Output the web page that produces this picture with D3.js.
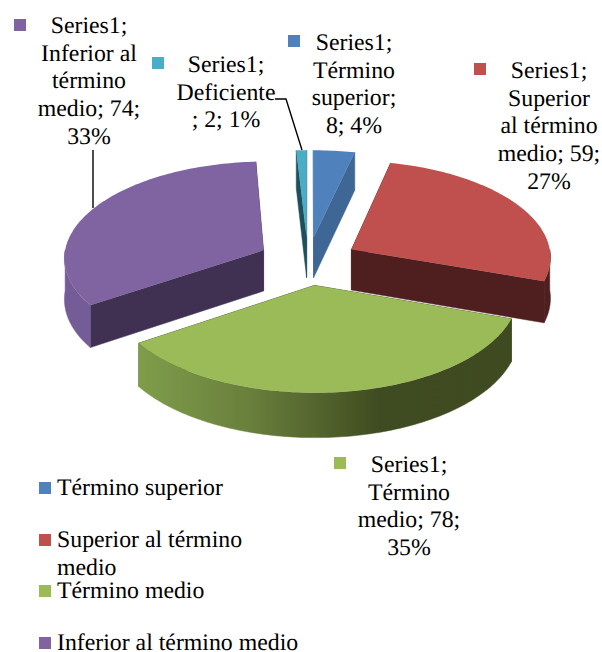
<!DOCTYPE html>
<html>
<head>
<meta charset="utf-8">
<script src="https://cdn.jsdelivr.net/npm/d3@7"></script>
<style>
  html, body { margin: 0; padding: 0; background: #fff; }
  svg { display: block; }
  text { font-family: "Liberation Serif", serif; fill: #000; text-rendering: geometricPrecision; }
</style>
</head>
<body>
<div id="chart"></div>
<script>
"use strict";

/* ── Data ── */
const categories = ["Término superior", "Superior al término medio", "Término medio", "Inferior al término medio", "Deficiente"];
const seriesValues = [8, 59, 78, 74, 2];
const percentLabels = ["4%", "27%", "35%", "33%", "1%"];
const labelLines = [
  ["Series1;", "Término", "superior;", "8; 4%"],
  ["Series1;", "Superior", "al término", "medio; 59;", "27%"],
  ["Series1;", "Término", "medio; 78;", "35%"],
  ["Series1;", "Inferior al", "término", "medio; 74;", "33%"],
  ["Series1;", "Deficiente", "; 2; 1%"]
];
const legendLines = [
  ["Término superior"],
  ["Superior al término", "medio"],
  ["Término medio"],
  ["Inferior al término medio"]
];

/* ── Styles & layout ── */
const topColours  = ["#4f81bd", "#c0504d", "#9bbb59", "#8064a2", "#4bacc6"];
const sideColours = ["#3e6796", "#4e1f1e", "#3f4a20", "#403152", "#1d4f5c"];
const rimColours  = ["#3e6796", "#4e1f1e", "url(#greenRim)", "#745c96", "#1d4f5c"];
const labelPos  = [
  { x: 354, y: 50,  mx: 288, my: 35 },
  { x: 549, y: 78,  mx: 474, my: 63 },
  { x: 409, y: 472, mx: 334, my: 457 },
  { x: 89,  y: 33,  mx: 14,  my: 19 },
  { x: 226, y: 72,  mx: 152, my: 57 }
];
const legendPos = [
  { y: 495, my: 482 },
  { y: 547, my: 534 },
  { y: 598, my: 585 },
  { y: 650, my: 637 }
];

const width = 602, height = 652;
const fontSize = 23.8, lineStep = 27.7;
const cx = 308, cy = 261;
const R = 200, explode = 50, tilt = 0.482, persp = 0.0695, depth = 41;

const svg = d3.select("#chart").append("svg")
  .attr("width", width)
  .attr("height", height);

const grad = svg.append("defs").append("linearGradient")
  .attr("id", "greenRim")
  .attr("gradientUnits", "userSpaceOnUse")
  .attr("x1", 138).attr("x2", 512).attr("y1", 0).attr("y2", 0);
[[0, "#7f9d4a"], [0.3, "#697f3c"], [0.65, "#3f4b20"], [1, "#3f4a20"]].forEach(s => {
  grad.append("stop").attr("offset", s[0]).attr("stop-color", s[1]);
});

/* ── Pie layout, clockwise from 12 o'clock ── */
const pie = d3.pie().value(d => d).sort(null);
const slices = pie(seriesValues).map(d => {
  const mid = (d.startAngle + d.endAngle) / 2;
  return { ...d, mid, ox: explode * Math.sin(mid), ov: -explode * Math.cos(mid) };
});

/* Projects a point on the pie plane: v grows towards the viewer */
function project(x, v, drop) {
  const p = 1 / (1 - persp * v / R);
  return [cx + x * p, cy + tilt * v * p + drop * p];
}
function apex(s, drop) {
  return project(s.ox, s.ov, drop);
}
function rimPoint(s, a, drop) {
  return project(s.ox + R * Math.sin(a), s.ov - R * Math.cos(a), drop);
}
function rimAngles(a0, a1) {
  const n = Math.max(2, Math.ceil((a1 - a0) / 0.02));
  return d3.range(n + 1).map(i => a0 + (a1 - a0) * i / n);
}

const line = d3.line();

/* ── Slices, back to front ── */
const drawOrder = slices.slice().sort((a, b) => a.ov - b.ov);
const pieG = svg.append("g");

drawOrder.forEach(s => {
  const g = pieG.append("g");
  const side = sideColours[s.index];

  /* straight cut faces */
  [s.startAngle, s.endAngle].forEach(a => {
    g.append("path")
      .attr("d", line([apex(s, 0), rimPoint(s, a, 0), rimPoint(s, a, depth), apex(s, depth)]) + "Z")
      .attr("fill", side)
      .attr("stroke", side)
      .attr("stroke-width", 0.5);
  });

  /* outer rim, only the part facing the viewer */
  const a0 = Math.max(s.startAngle, Math.PI / 2);
  const a1 = Math.min(s.endAngle, Math.PI * 1.5);
  if (a1 > a0) {
    const angles = rimAngles(a0, a1);
    const pts = angles.map(a => rimPoint(s, a, 0))
      .concat(angles.slice().reverse().map(a => rimPoint(s, a, depth)));
    g.append("path")
      .attr("d", line(pts) + "Z")
      .attr("fill", rimColours[s.index])
      .attr("stroke", rimColours[s.index])
      .attr("stroke-width", 0.5);
  }

  /* top face */
  const topPts = [apex(s, 0)].concat(rimAngles(s.startAngle, s.endAngle).map(a => rimPoint(s, a, 0)));
  g.append("path")
    .attr("d", line(topPts) + "Z")
    .attr("fill", topColours[s.index]);
});

/* ── Leader lines ── */
const leaders = [
  [[93, 150], [93, 208]],
  [[275, 99], [286, 99], [302, 150]]
];
svg.append("g").selectAll("path")
  .data(leaders)
  .join("path")
  .attr("d", d => line(d))
  .attr("fill", "none")
  .attr("stroke", "#000")
  .attr("stroke-width", 1.4);

/* ── Data labels ── */
const labels = svg.append("g").selectAll("g")
  .data(labelLines)
  .join("g");

labels.append("rect")
  .attr("x", (d, i) => labelPos[i].mx)
  .attr("y", (d, i) => labelPos[i].my)
  .attr("width", 12).attr("height", 12)
  .attr("fill", (d, i) => topColours[i]);

labels.each(function(lines, i) {
  d3.select(this).selectAll("text")
    .data(lines)
    .join("text")
    .attr("x", labelPos[i].x)
    .attr("y", (d, j) => labelPos[i].y + j * lineStep)
    .attr("text-anchor", "middle")
    .attr("font-size", fontSize)
    .text(d => d);
});

/* ── Legend ── */
const legend = svg.append("g").selectAll("g")
  .data(legendLines)
  .join("g");

legend.append("rect")
  .attr("x", 39)
  .attr("y", (d, i) => legendPos[i].my)
  .attr("width", 12).attr("height", 12)
  .attr("fill", (d, i) => topColours[i]);

legend.each(function(lines, i) {
  d3.select(this).selectAll("text")
    .data(lines)
    .join("text")
    .attr("x", 57)
    .attr("y", (d, j) => legendPos[i].y + j * lineStep)
    .attr("font-size", fontSize)
    .text(d => d);
});
</script>
</body>
</html>
